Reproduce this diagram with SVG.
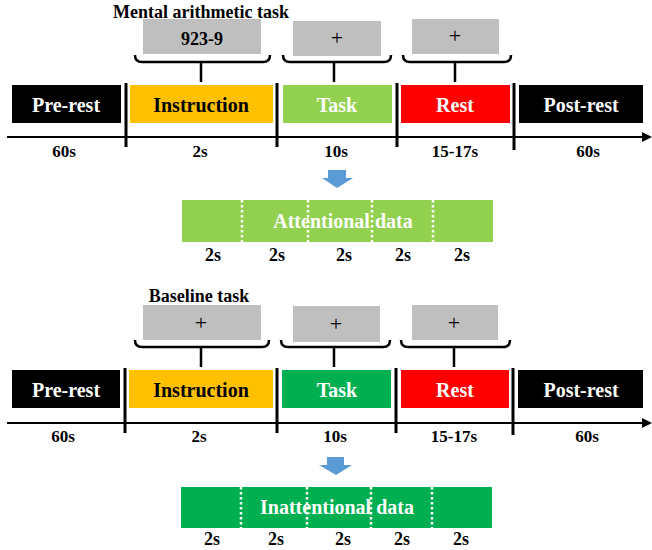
<svg xmlns="http://www.w3.org/2000/svg" width="652" height="550" viewBox="0 0 652 550">
<style>
text{font-family:"Liberation Serif","Times New Roman",serif;font-weight:bold;text-anchor:middle}
.t{font-size:18px}
.bar{font-size:20px}
.w{fill:#fff}
.k{fill:#000}
.dur{font-size:17px}
.plus{font-size:22px;font-weight:normal}
.gray{fill:#BFBFBF}
.brace{fill:none;stroke:#000;stroke-width:2.5}
.tick{stroke:#000;stroke-width:3}
.axis{stroke:#000;stroke-width:2}
.dot{stroke:#fff;stroke-width:2.5;stroke-dasharray:2.5 2.5}
.blue{fill:#5B9BD5}
</style>

<!-- ===== Top: Mental arithmetic task ===== -->
<g id="title-top"><text class="t" x="201" y="18">Mental arithmetic task</text></g>

<g id="stim-top-1"><rect class="gray" x="143" y="19" width="118" height="35"/><text class="t" x="202" y="45">923-9</text></g>
<g id="stim-top-2"><rect class="gray" x="293" y="21" width="88" height="35"/><text class="plus" x="337" y="45">+</text></g>
<g id="stim-top-3"><rect class="gray" x="412" y="19" width="87" height="35"/><text class="plus" x="455" y="43">+</text></g>

<g id="bar-top-prerest"><rect x="12" y="85" width="109" height="38" fill="#000"/><text class="bar w" x="66" y="112">Pre-rest</text></g>
<g id="bar-top-instruction"><rect x="130" y="85" width="143" height="38" fill="#FFC000"/><text class="bar k" x="201" y="112">Instruction</text></g>
<g id="bar-top-task"><rect x="283" y="85" width="109" height="38" fill="#92D050"/><text class="bar w" x="337" y="112">Task</text></g>
<g id="bar-top-rest"><rect x="401" y="85" width="109" height="38" fill="#FF0000"/><text class="bar w" x="455" y="112">Rest</text></g>
<g id="bar-top-postrest"><rect x="519" y="85" width="124" height="38" fill="#000"/><text class="bar w" x="581" y="112">Post-rest</text></g>

<g id="dur-top">
<text class="dur" x="64" y="157">60s</text>
<text class="dur" x="200" y="157">2s</text>
<text class="dur" x="336" y="157">10s</text>
<text class="dur" x="455" y="157">15-17s</text>
<text class="dur" x="588" y="157">60s</text>
</g>

<g id="arrow-top"><polygon class="blue" points="328,170 346,170 346,178 353,178 337,188 322,178 328,178"/></g>

<g id="data-top">
<rect x="182" y="200" width="311" height="42" fill="#92D050"/>
<text class="bar w" x="343" y="228">Attentional data</text>
<line class="dot" x1="242" y1="200" x2="242" y2="242"/>
<line class="dot" x1="308" y1="200" x2="308" y2="242"/>
<line class="dot" x1="372" y1="200" x2="372" y2="242"/>
<line class="dot" x1="433" y1="200" x2="433" y2="242"/>
<text class="t" x="213" y="261">2s</text>
<text class="t" x="277" y="261">2s</text>
<text class="t" x="344" y="261">2s</text>
<text class="t" x="403" y="261">2s</text>
<text class="t" x="462" y="261">2s</text>
</g>

<!-- ===== Bottom: Baseline task ===== -->
<g id="title-bottom"><text class="t" x="199" y="302">Baseline task</text></g>

<g id="stim-bot-1"><rect class="gray" x="143" y="305" width="118" height="35"/><text class="plus" x="201" y="330">+</text></g>
<g id="stim-bot-2"><rect class="gray" x="293" y="306" width="87" height="36"/><text class="plus" x="336" y="331">+</text></g>
<g id="stim-bot-3"><rect class="gray" x="412" y="305" width="86" height="35"/><text class="plus" x="454" y="330">+</text></g>

<g id="bar-bot-prerest"><rect x="12" y="370" width="108" height="38" fill="#000"/><text class="bar w" x="66" y="397">Pre-rest</text></g>
<g id="bar-bot-instruction"><rect x="129" y="370" width="144" height="38" fill="#FFC000"/><text class="bar k" x="201" y="397">Instruction</text></g>
<g id="bar-bot-task"><rect x="282" y="370" width="109" height="38" fill="#00B050"/><text class="bar w" x="337" y="397">Task</text></g>
<g id="bar-bot-rest"><rect x="401" y="370" width="108" height="38" fill="#FF0000"/><text class="bar w" x="455" y="397">Rest</text></g>
<g id="bar-bot-postrest"><rect x="518" y="370" width="125" height="38" fill="#000"/><text class="bar w" x="581" y="397">Post-rest</text></g>

<g id="dur-bottom">
<text class="dur" x="63" y="442">60s</text>
<text class="dur" x="199" y="442">2s</text>
<text class="dur" x="335" y="442">10s</text>
<text class="dur" x="454" y="442">15-17s</text>
<text class="dur" x="587" y="442">60s</text>
</g>

<g id="arrow-bottom"><polygon class="blue" points="327,457 344,457 344,465 352,465 336,475 319,465 327,465"/></g>

<g id="data-bottom">
<rect x="181" y="487" width="311" height="41" fill="#00B050"/>
<text class="bar w" x="337" y="514">Inattentional data</text>
<line class="dot" x1="241" y1="487" x2="241" y2="528"/>
<line class="dot" x1="307" y1="487" x2="307" y2="528"/>
<line class="dot" x1="371" y1="487" x2="371" y2="528"/>
<line class="dot" x1="432" y1="487" x2="432" y2="528"/>
<text class="t" x="212" y="545">2s</text>
<text class="t" x="276" y="545">2s</text>
<text class="t" x="343" y="545">2s</text>
<text class="t" x="402" y="545">2s</text>
<text class="t" x="461" y="545">2s</text>
</g>

<!-- ===== Connectors: braces, axes, ticks ===== -->
<g id="connectors">
<path class="brace" d="M135,55 Q135,62 142,62 H263 Q270,62 270,55 M201,62 V82"/>
<path class="brace" d="M283,55 Q283,62 290,62 H384 Q391,62 391,55 M334,62 V82"/>
<path class="brace" d="M403,55 Q403,62 410,62 H504 Q511,62 511,55 M455,62 V82"/>
<line class="axis" x1="7" y1="137" x2="644" y2="137"/>
<polygon points="642,132 652,137 642,142" fill="#000"/>
<line class="tick" x1="126" y1="83" x2="126" y2="147"/>
<line class="tick" x1="277" y1="83" x2="277" y2="147"/>
<line class="tick" x1="397" y1="83" x2="397" y2="147"/>
<line class="tick" x1="514" y1="83" x2="514" y2="150"/>

<path class="brace" d="M135,340 Q135,347 142,347 H262 Q269,347 269,340 M201,347 V367"/>
<path class="brace" d="M281,340 Q281,347 288,347 H383 Q390,347 390,340 M334,347 V367"/>
<path class="brace" d="M401,340 Q401,347 408,347 H503 Q510,347 510,340 M454,347 V367"/>
<line class="axis" x1="7" y1="423" x2="644" y2="423"/>
<polygon points="642,418 652,423 642,428" fill="#000"/>
<line class="tick" x1="125" y1="368" x2="125" y2="433"/>
<line class="tick" x1="277" y1="368" x2="277" y2="433"/>
<line class="tick" x1="396" y1="368" x2="396" y2="433"/>
<line class="tick" x1="513" y1="368" x2="513" y2="435"/>
</g>
</svg>
